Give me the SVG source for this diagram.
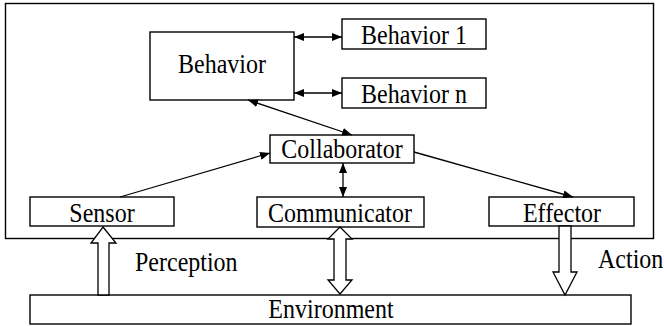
<svg xmlns="http://www.w3.org/2000/svg" width="664" height="326" viewBox="0 0 664 326">
<defs>
<style>
.box{fill:#fff;stroke:#000;stroke-width:1.4}
.lbl{font-family:'Liberation Serif','Times New Roman',serif;font-size:24px;fill:#000;text-anchor:middle}
.free{font-family:'Liberation Serif','Times New Roman',serif;font-size:24px;fill:#000}
.con{stroke:#000;stroke-width:1.3;fill:none}
.hollow{fill:#fff;stroke:#000;stroke-width:1.3;stroke-linejoin:miter}
</style>
<marker id="ah" viewBox="0 0 10 8" refX="10" refY="4" markerWidth="10" markerHeight="8" markerUnits="userSpaceOnUse" orient="auto-start-reverse">
<path d="M0,0 L10,4 L0,8 Z" fill="#000"/>
</marker>
</defs>
<rect width="664" height="326" fill="#fff"/>
<g id="agent">
<rect class="box" x="5.5" y="3.5" width="648" height="235" fill="none"/>
</g>
<g id="behavior">
<rect class="box" x="150" y="32" width="144" height="68"/>
<text class="lbl" transform="translate(222,73) scale(1,1.1)">Behavior</text>
</g>
<g id="behavior1">
<rect class="box" x="342" y="19" width="144" height="30"/>
<text class="lbl" transform="translate(414,44) scale(1,1.1)">Behavior 1</text>
</g>
<g id="behaviorn">
<rect class="box" x="342" y="78" width="144" height="30"/>
<text class="lbl" transform="translate(414,103) scale(1,1.1)">Behavior n</text>
</g>
<g id="collaborator">
<rect class="box" x="270" y="135" width="144" height="28"/>
<text class="lbl" transform="translate(342,158) scale(1,1.1)">Collaborator</text>
</g>
<g id="sensor">
<rect class="box" x="30" y="197" width="144" height="29"/>
<text class="lbl" transform="translate(102,222) scale(1,1.1)">Sensor</text>
</g>
<g id="communicator">
<rect class="box" x="257" y="197" width="167" height="30"/>
<text class="lbl" transform="translate(340,222) scale(1,1.1)">Communicator</text>
</g>
<g id="effector">
<rect class="box" x="489" y="197" width="145" height="29"/>
<text class="lbl" transform="translate(562,222) scale(1,1.1)">Effector</text>
</g>
<g id="environment">
<rect class="box" x="30" y="295" width="601" height="29"/>
<text class="lbl" transform="translate(331,318) scale(1,1.1)">Environment</text>
</g>
<g id="connectors">
<line class="con" x1="294" y1="37" x2="342" y2="37" marker-start="url(#ah)" marker-end="url(#ah)"/>
<line class="con" x1="294" y1="93" x2="342" y2="93" marker-start="url(#ah)" marker-end="url(#ah)"/>
<line class="con" x1="248" y1="100" x2="352" y2="135" marker-start="url(#ah)" marker-end="url(#ah)"/>
<line class="con" x1="120" y1="197" x2="270" y2="153" marker-end="url(#ah)"/>
<line class="con" x1="414" y1="152" x2="573" y2="197" marker-end="url(#ah)"/>
<line class="con" x1="343" y1="163" x2="343" y2="197" marker-start="url(#ah)" marker-end="url(#ah)"/>
<polygon class="hollow" points="103,227 116,243 109,243 109,295 98,295 98,243 91,243"/>
<polygon class="hollow" points="340,227 352,239 346,239 346,280 352,280 340,294 328,280 334,280 334,239 328,239"/>
<polygon class="hollow" points="559,226 571,226 571,272 577,272 565,295 553,272 559,272"/>
<text class="free" transform="translate(135,271) scale(1,1.1)">Perception</text>
<text class="free" transform="translate(598,268) scale(1,1.1)">Action</text>
</g>
</svg>
